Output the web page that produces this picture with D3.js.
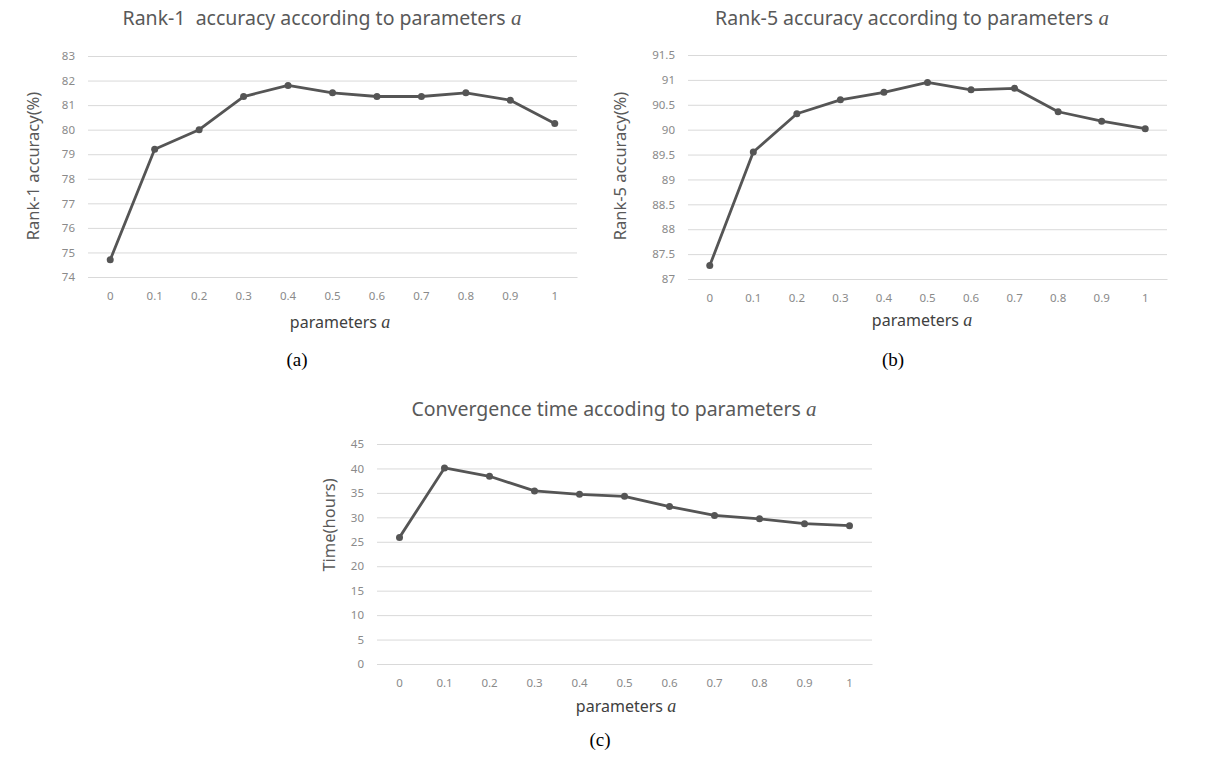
<!DOCTYPE html>
<html><head><meta charset="utf-8">
<script src="https://cdn.jsdelivr.net/npm/d3@7"></script>
<style>body{margin:0;background:#fff}</style>
</head><body>
<svg id="c" width="1205" height="762"></svg>
<script>
const categories = ["0","0.1","0.2","0.3","0.4","0.5","0.6","0.7","0.8","0.9","1"];
const rank1 = [74.7,79.2,80.0,81.35,81.8,81.5,81.35,81.35,81.5,81.2,80.25];
const rank5 = [87.27,89.55,90.32,90.6,90.75,90.95,90.8,90.83,90.36,90.17,90.02];
const timeHours = [25.9,40.1,38.4,35.4,34.7,34.3,32.2,30.4,29.7,28.7,28.3];
const ticksA = [74,75,76,77,78,79,80,81,82,83];
const ticksB = [87,87.5,88,88.5,89,89.5,90,90.5,91,91.5];
const ticksC = [0,5,10,15,20,25,30,35,40,45];

const svg = d3.select("#c");
const sans = "'Noto Sans', 'Open Sans', sans-serif";
const serif = "'Liberation Serif', 'DejaVu Serif', serif";
const lineColor = "#555555";

function panel(o){
  const g = svg.append("g");
  const x = d3.scaleBand().domain(categories).range([o.x0,o.x1]);
  const y = d3.scaleLinear().domain([o.ticks[0], o.ticks[o.ticks.length-1]]).range([o.yb,o.yt]);
  const ya = d3.axisLeft(y).tickValues(o.ticks).tickSize(-(o.x1-o.x0)).tickPadding(13).tickFormat(d=>String(d));
  const yg = g.append("g").attr("transform",`translate(${o.x0},0)`).call(ya);
  yg.select(".domain").remove();
  yg.selectAll(".tick line").attr("stroke","#d9d9d9").attr("stroke-width",1);
  yg.selectAll(".tick text").attr("fill","#8a8a8a").style("font-family",sans).style("font-size","11.5px");
  const xa = d3.axisBottom(x).tickSize(0).tickPadding(o.xpad);
  const xg = g.append("g").attr("transform",`translate(0,${o.yb})`).call(xa);
  xg.select(".domain").attr("stroke","#d9d9d9");
  xg.selectAll(".tick text").attr("fill","#8a8a8a").style("font-family",sans).style("font-size","11.5px");
  const cx = (d,i)=>x(categories[i])+x.bandwidth()/2;
  g.append("path").datum(o.data)
    .attr("fill","none").attr("stroke",lineColor).attr("stroke-width",2.8).attr("stroke-linejoin","round")
    .attr("d", d3.line().x(cx).y(d=>y(d)));
  g.selectAll("circle").data(o.data).join("circle")
    .attr("cx",cx).attr("cy",d=>y(d)).attr("r",3.5).attr("fill",lineColor);
  const t = g.append("text").attr("x",o.tx).attr("y",o.ty).attr("text-anchor","middle")
    .attr("fill","#595959").style("font-family",sans).style("font-size","19.5px");
  t.append("tspan").attr("xml:space","preserve").text(o.title);
  t.append("tspan").style("font-family",serif).style("font-style","italic").style("font-size","21px").text(" a");
  g.append("text").attr("transform",`translate(${o.ylx},${o.yly}) rotate(-90)`)
    .attr("text-anchor","middle").attr("dominant-baseline","middle")
    .attr("fill","#595959").style("font-family",sans).style("font-size","16.5px").text(o.ytitle);
  const xt = g.append("text").attr("x",o.xtx).attr("y",o.xty).attr("text-anchor","middle")
    .attr("fill","#404040").style("font-family",sans).style("font-size","16px");
  xt.append("tspan").text("parameters ");
  xt.append("tspan").style("font-family",serif).style("font-style","italic").style("font-size","18px").text("a");
  g.append("text").attr("x",o.capx).attr("y",o.capy).attr("text-anchor","middle")
    .attr("fill","#000").style("font-family",serif).style("font-size","19px").text(o.cap);
}

panel({data:rank1,ticks:ticksA,x0:88,x1:577,yt:56,yb:277,xpad:15,
  title:"Rank-1  accuracy according to parameters",tx:322,ty:25,
  ytitle:"Rank-1 accuracy(%)",ylx:35,yly:166,xtx:340,xty:328,cap:"(a)",capx:297,capy:366});
panel({data:rank5,ticks:ticksB,x0:688,x1:1167,yt:55,yb:279,xpad:15,
  title:"Rank-5 accuracy according to parameters",tx:912,ty:25,
  ytitle:"Rank-5 accuracy(%)",ylx:622,yly:166,xtx:922,xty:326,cap:"(b)",capx:893,capy:366});
panel({data:timeHours,ticks:ticksC,x0:377,x1:872,yt:444,yb:664,xpad:15,
  title:"Convergence time accoding to parameters",tx:614,ty:416,
  ytitle:"Time(hours)",ylx:331,yly:525,xtx:626,xty:712,cap:"(c)",capx:600,capy:746});
</script>
</body></html>
